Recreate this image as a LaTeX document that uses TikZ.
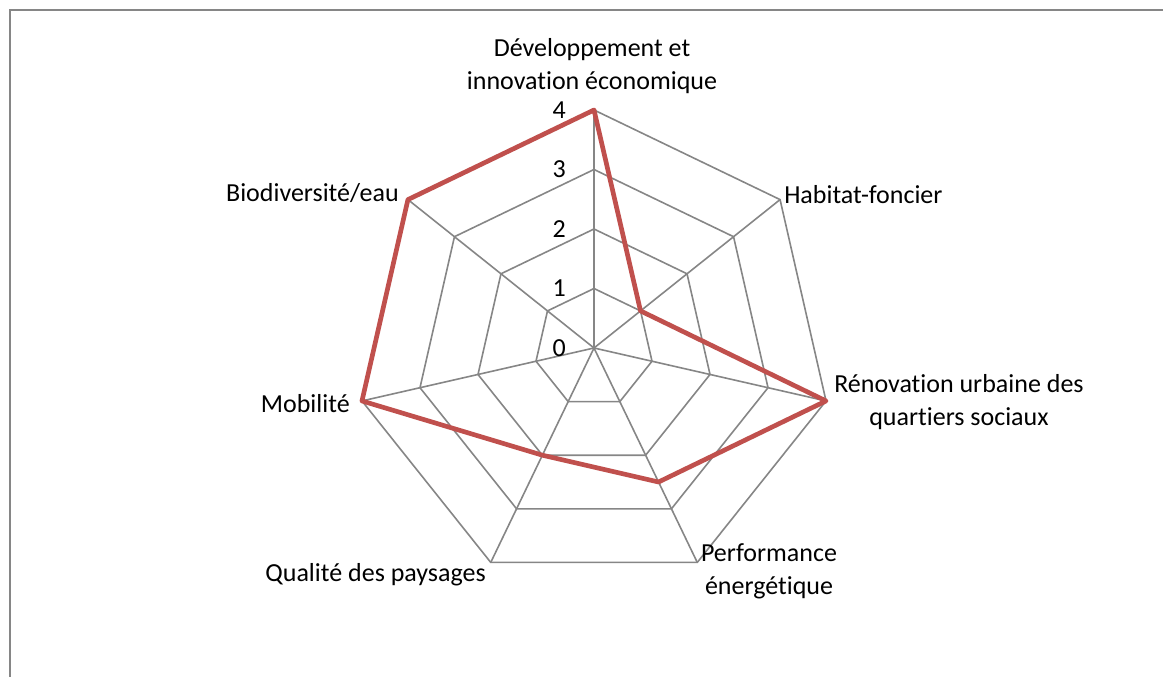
\documentclass[tikz,border=0pt]{standalone}
\usepackage{fontspec}
\setmainfont{Carlito}[Ligatures=NoCommon]
\usetikzlibrary{calc}
\definecolor{gridgray}{RGB}{134,134,134}
\definecolor{seriered}{RGB}{192,80,77}

\begin{document}
\begin{tikzpicture}[x=0.75pt,y=0.75pt,
  gridline/.style={draw=gridgray,line width=1.2pt},
  frameline/.style={draw=gridgray,line width=1.5pt},
  serie/.style={draw=seriered,line width=3.5pt,line join=round},
  axelabel/.style={inner sep=0pt,align=center,font=\fontsize{19.5}{24.5}\selectfont},
  ticklabel/.style={inner sep=0pt,anchor=east,font=\fontsize{19.5}{21}\selectfont}]
\useasboundingbox (0,0) rectangle (1163,677);
\draw[frameline] (9.5,0) |- (1163,666.5);
\coordinate (O) at (594,329);
% rings, clockwise from the top
\foreach \r in {1,...,4}{
  \foreach \i in {0,...,6}
    \coordinate (R\r-\i) at ($(O)+({90-\i*360/7}:\r*59.5)$);
  \draw[gridline] (R\r-0) -- (R\r-1) -- (R\r-2) -- (R\r-3) -- (R\r-4) -- (R\r-5) -- (R\r-6) -- cycle;
}
\foreach \i in {0,...,6}
  \draw[gridline] (O) -- (R4-\i);
% data
\foreach \v [count=\i from 0] in {4,1,4,2.5,2,4,4}
  \coordinate (D\i) at ($(O)+({90-\i*360/7}:\v*59.5)$);
\draw[serie] (D0) -- (D1) -- (D2) -- (D3) -- (D4) -- (D5) -- (D6) -- cycle;
% scale
\foreach \k in {0,...,4}
  \node[ticklabel] (T\k) at ($(O)+(-28,\k*59.5)$) {\k};
% axis names
\node[axelabel] (dev) at (592,611) {Développement et\\innovation économique};
\node[axelabel,anchor=west] (hab) at (784,482) {Habitat-foncier};
\node[axelabel,anchor=west] (ren) at (834,275) {Rénovation urbaine des\\quartiers sociaux};
\node[axelabel] (perf) at (769,106) {Performance\\énergétique};
\node[axelabel,anchor=east] (qual) at (486,102) {Qualité des paysages};
\node[axelabel,anchor=east] (mob) at (350,273) {Mobilité};
\node[axelabel,anchor=east] (bio) at (399,484) {Biodiversité/eau};
\end{tikzpicture}
\end{document}
